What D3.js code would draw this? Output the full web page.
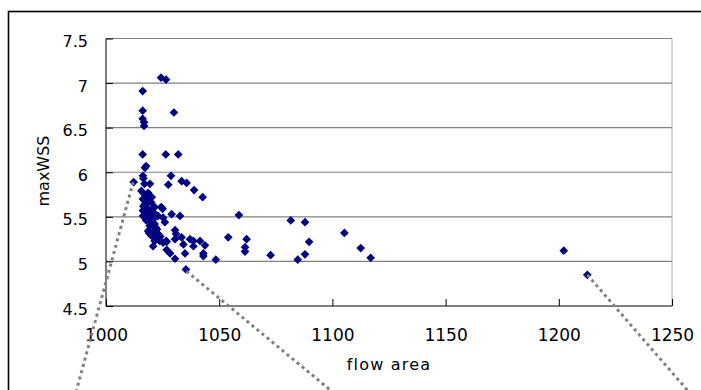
<!DOCTYPE html>
<html>
<head>
<meta charset="utf-8">
<script src="https://cdn.jsdelivr.net/npm/d3@7"></script>
<style>
  body { margin: 0; background: #fff; }
  text { font-family: "DejaVu Sans", sans-serif; fill: #000; }
</style>
</head>
<body>
<svg id="chart" width="701" height="390"></svg>
<script>
// flow area values of the measured cases
const flowArea = [
  1024.3, 1026.5, 1016.2, 1016.2, 1030.0, 1016.2, 1016.8, 1016.8, 1016.2, 1026.4,
  1031.9, 1017.7, 1017.2, 1012.2, 1016.3, 1016.5, 1017.0, 1019.4, 1028.7, 1027.5,
  1033.4, 1035.6, 1038.9, 1042.7, 1015.6, 1017.1, 1018.6, 1016.3, 1018.6, 1017.1,
  1020.0, 1021.5, 1024.4, 1016.3, 1018.6, 1016.3, 1019.3, 1023.0, 1025.2, 1025.0,
  1017.8, 1020.8, 1019.3, 1021.5, 1018.6, 1020.8, 1020.0, 1023.0, 1021.5, 1023.7,
  1020.8, 1025.2, 1026.6, 1029.0, 1032.7, 1058.7, 1026.0, 1030.5, 1030.9, 1054.0,
  1062.1, 1026.8, 1030.5, 1033.4, 1037.1, 1038.6, 1041.5, 1043.7, 1034.2, 1038.6,
  1026.8, 1028.3, 1030.5, 1034.9, 1043.0, 1043.0, 1048.5, 1035.3, 1081.6, 1087.9,
  1105.3, 1061.4, 1061.4, 1072.7, 1089.7, 1087.9, 1084.7, 1112.5, 1116.9, 1202.2,
  1212.6, 1017.5, 1019.0, 1020.2, 1018.0, 1022.0, 1016.5, 1018.2, 1019.8, 1021.0,
  1017.0, 1022.5, 1024.0, 1019.0, 1021.8
];
const maxWSS = [
  7.06, 7.04, 6.91, 6.69, 6.67, 6.60, 6.56, 6.52, 6.20, 6.20,
  6.20, 6.07, 6.05, 5.89, 5.96, 5.93, 5.87, 5.87, 5.96, 5.86,
  5.90, 5.88, 5.80, 5.72, 5.79, 5.75, 5.77, 5.70, 5.70, 5.64,
  5.66, 5.61, 5.61, 5.57, 5.55, 5.51, 5.51, 5.51, 5.49, 5.59,
  5.46, 5.47, 5.40, 5.42, 5.34, 5.34, 5.29, 5.31, 5.23, 5.23,
  5.17, 5.21, 5.23, 5.53, 5.51, 5.52, 5.44, 5.35, 5.31, 5.27,
  5.25, 5.22, 5.25, 5.27, 5.25, 5.23, 5.23, 5.18, 5.19, 5.17,
  5.13, 5.09, 5.03, 5.09, 5.09, 5.06, 5.02, 4.91, 5.46, 5.44,
  5.32, 5.16, 5.11, 5.07, 5.22, 5.08, 5.02, 5.15, 5.04, 5.12,
  4.85, 5.60, 5.58, 5.72, 5.65, 5.38, 5.62, 5.52, 5.45, 5.55,
  5.68, 5.36, 5.28, 5.32, 5.27
];
const xTicks = [1000, 1050, 1100, 1150, 1200, 1250];
const yTicks = [4.5, 5, 5.5, 6, 6.5, 7, 7.5];
// grey dotted call-out lines: [x0, y0, x1, y1] in data units
const callouts = [
  [1012.0, 5.89, 985.9, 3.456],
  [1035.6, 4.89, 1103.9, 3.456],
  [1212.6, 4.85, 1260.2, 3.456]
];

const svg = d3.select("#chart");
const plotL = 106, plotR = 672, plotT = 38.5, plotB = 306;

const x = d3.scaleLinear().domain([1000, 1250]).range([plotL, plotR]);
const y = d3.scaleLinear().domain([4.5, 7.5]).range([plotB, plotT]);

svg.append("rect")
  .attr("width", 701).attr("height", 390).attr("fill", "#fff");

// outer chart border (runs past the cropped edges)
svg.append("rect")
  .attr("x", 8.5).attr("y", 11.5)
  .attr("width", 800).attr("height", 500)
  .attr("fill", "none").attr("stroke", "#000").attr("stroke-width", 1.6);

// horizontal gridlines
svg.append("g").selectAll("line")
  .data(yTicks.slice(1))
  .enter().append("line")
  .attr("x1", plotL).attr("x2", plotR)
  .attr("y1", d => y(d)).attr("y2", d => y(d))
  .attr("stroke", "#808080").attr("stroke-width", 1.2);

// right edge of plot area
svg.append("line")
  .attr("x1", plotR).attr("x2", plotR)
  .attr("y1", plotT).attr("y2", plotB)
  .attr("stroke", "#a8a8a8").attr("stroke-width", 1);

// y axis
const yAxis = svg.append("g")
  .attr("transform", "translate(" + plotL + ",0)")
  .call(d3.axisRight(y).tickValues(yTicks).tickSize(7).tickFormat(d3.format("")));
yAxis.select(".domain").attr("stroke", "#000").attr("d", "M0," + plotT + "V" + plotB);
yAxis.selectAll(".tick line").attr("stroke", "#000");
yAxis.selectAll(".tick text")
  .attr("x", -18).attr("dy", "0.5em")
  .attr("text-anchor", "end")
  .style("font-size", "16px")
  .style("font-family", "'DejaVu Sans', sans-serif");

// x axis
const xAxis = svg.append("g")
  .attr("transform", "translate(0," + plotB + ")")
  .call(d3.axisTop(x).tickValues(xTicks).tickSize(7).tickFormat(d3.format("d")));
xAxis.select(".domain").attr("stroke", "#000").attr("d", "M" + plotL + ",0H" + plotR);
xAxis.selectAll(".tick line").attr("stroke", "#000");
xAxis.selectAll(".tick text")
  .attr("y", 34.5).attr("dy", 0)
  .style("font-size", "17px")
  .style("font-family", "'DejaVu Sans', sans-serif");

// points
const pts = d3.range(flowArea.length).map(i => ({ fa: flowArea[i], w: maxWSS[i] }));
const diamond = d3.symbol().type(d3.symbolSquare).size(38);
svg.append("g").selectAll("path")
  .data(pts)
  .enter().append("path")
  .attr("d", diamond)
  .attr("transform", d => "translate(" + x(d.fa) + "," + y(d.w) + ") rotate(45)")
  .attr("fill", "#000080");

// dotted call-out lines
svg.append("g").selectAll("line")
  .data(callouts)
  .enter().append("line")
  .attr("x1", d => x(d[0])).attr("y1", d => y(d[1]))
  .attr("x2", d => x(d[2])).attr("y2", d => y(d[3]))
  .attr("stroke", "#808080").attr("stroke-width", 3)
  .attr("stroke-dasharray", "3,3.5");

// axis titles
svg.append("text")
  .attr("transform", "translate(49," + 171 + ") rotate(-90)")
  .attr("text-anchor", "middle")
  .style("font-size", "16px")
  .text("maxWSS");

svg.append("text")
  .attr("x", (plotL + plotR) / 2).attr("y", 370)
  .attr("text-anchor", "middle")
  .style("font-size", "16px")
  .style("letter-spacing", "1.2px")
  .text("flow area");
</script>
</body>
</html>
